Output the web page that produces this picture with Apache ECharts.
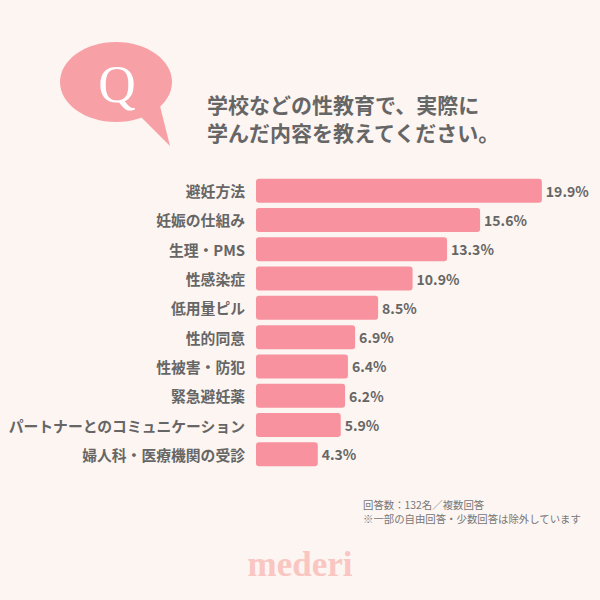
<!DOCTYPE html>
<html>
<head>
<meta charset="utf-8">
<script src="https://cdn.jsdelivr.net/npm/echarts@6/dist/echarts.min.js"></script>
<style>
  html, body { margin: 0; padding: 0; background: #fdf5f1; }
  #chart { width: 600px; height: 600px; }
</style>
</head>
<body>
<div id="chart"></div>
<script>
const categories = [
    '避妊方法',
    '妊娠の仕組み',
    '生理・PMS',
    '性感染症',
    '低用量ピル',
    '性的同意',
    '性被害・防犯',
    '緊急避妊薬',
    'パートナーとのコミュニケーション',
    '婦人科・医療機関の受診'
];
const values = [19.9, 15.6, 13.3, 10.9, 8.5, 6.9, 6.4, 6.2, 5.9, 4.3];
const titleLines = ['学校などの性教育で、実際に', '学んだ内容を教えてください。'];
const noteLines = ['回答数：132名／複数回答', '※一部の自由回答・少数回答は除外しています'];

const font = '"Noto Sans CJK JP", "Noto Sans", sans-serif';
const textColor = '#666666';

const chart = echarts.init(document.getElementById('chart'), null, { renderer: 'svg' });
const option = {
    backgroundColor: '#fdf5f1',
    animation: false,
    textStyle: { fontFamily: font },
    title: {
        text: titleLines.join('\n'),
        left: 202,
        top: 85,
        textStyle: {
            color: textColor,
            fontSize: 21,
            fontWeight: 'bold',
            lineHeight: 28,
            fontFamily: font
        }
    },
    grid: {
        left: 256,
        top: 176,
        width: 287.3,
        height: 293
    },
    xAxis: {
        type: 'value',
        min: 0,
        max: 20,
        show: false
    },
    yAxis: {
        type: 'category',
        inverse: true,
        data: categories,
        axisLine: { show: false },
        axisTick: { show: false },
        axisLabel: {
            color: textColor,
            fontSize: 14.8,
            fontWeight: 'bold',
            margin: 11,
            fontFamily: font
        }
    },
    series: [
        {
            type: 'bar',
            data: values,
            barWidth: 24,
            itemStyle: {
                color: '#f8929e',
                borderRadius: 3
            },
            label: {
                show: true,
                position: 'right',
                distance: 4,
                formatter: '{c}%',
                color: textColor,
                fontSize: 14,
                fontWeight: 'bold',
                fontFamily: font
            }
        }
    ],
    graphic: [
        {
            type: 'polygon',
            shape: { points: [[140, 116], [160, 106], [170, 146]] },
            style: { fill: '#f7a0a5' }
        },
        {
            type: 'ellipse',
            shape: { cx: 116, cy: 82, rx: 56, ry: 40 },
            style: { fill: '#f7a0a5' }
        },
        {
            type: 'text',
            x: 117,
            y: 84,
            style: {
                text: 'Q',
                fill: '#ffffff',
                font: '52px "Liberation Serif", "DejaVu Serif", serif',
                align: 'center',
                verticalAlign: 'middle'
            }
        },
        {
            type: 'text',
            x: 363,
            y: 497,
            style: {
                text: noteLines.join('\n'),
                fill: '#777777',
                font: '10.4px ' + font,
                lineHeight: 14,
                align: 'left',
                verticalAlign: 'top'
            }
        },
        {
            type: 'text',
            x: 300,
            y: 564,
            style: {
                text: 'mederi',
                fill: '#f9c6c2',
                font: 'bold 35px "Liberation Serif", "DejaVu Serif", serif',
                align: 'center',
                verticalAlign: 'middle'
            }
        }
    ]
};

chart.setOption(option);
</script>
</body>
</html>
